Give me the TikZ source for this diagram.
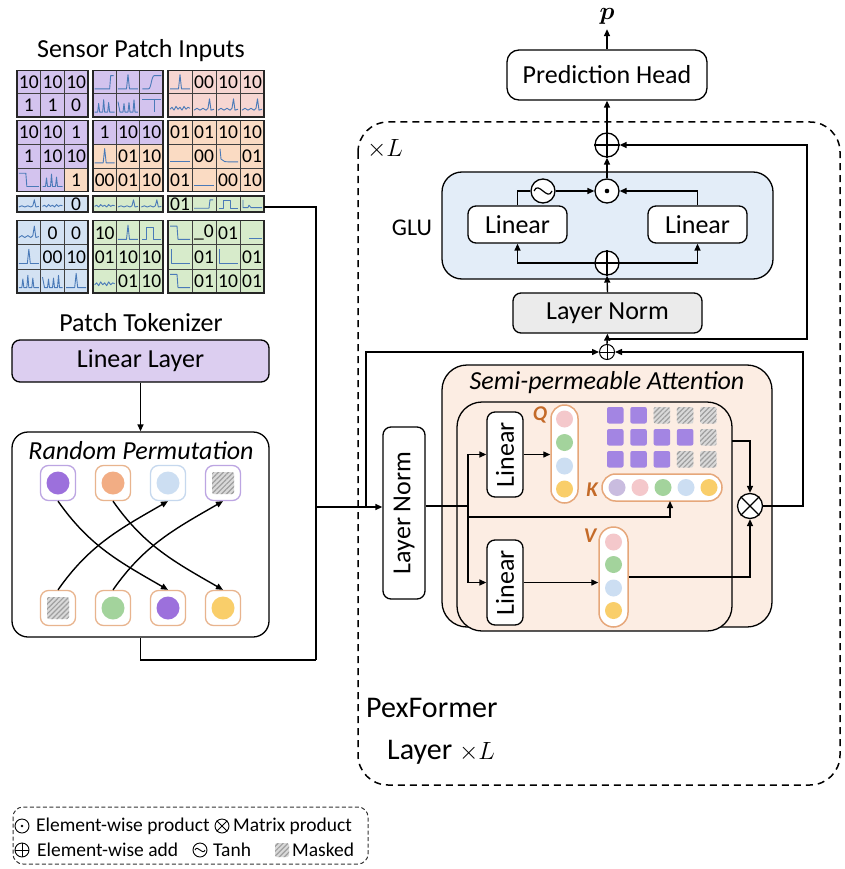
\documentclass[tikz,border=0pt]{standalone}
\usepackage{amsmath,bm}
\usepackage{fontspec}
\setmainfont{Carlito}
\usetikzlibrary{arrows.meta,patterns.meta,calc}
\definecolor{cP}{HTML}{D3C3EE}
\definecolor{cK}{HTML}{F6D6D2}
\definecolor{cO}{HTML}{FADBC3}
\definecolor{cB}{HTML}{D3E2F3}
\definecolor{cG}{HTML}{D7EBCB}
\definecolor{wavec}{HTML}{4A7AB8}
\definecolor{llf}{HTML}{DCCEF0}
\definecolor{glub}{HTML}{E3EDF8}
\definecolor{lng}{HTML}{EBEBEB}
\definecolor{attf}{HTML}{FCEDE3}
\definecolor{tokP}{HTML}{9C70DC}
\definecolor{tokO}{HTML}{F2AD84}
\definecolor{tokB}{HTML}{CCDEF2}
\definecolor{tokG}{HTML}{A3D39C}
\definecolor{tokY}{HTML}{F9CE6A}
\definecolor{tokPk}{HTML}{F4C8CB}
\definecolor{tokL}{HTML}{C9BCDF}
\definecolor{bdO}{HTML}{E8B48E}
\definecolor{bdP}{HTML}{BCA5E2}
\definecolor{bdB}{HTML}{C6D8EE}
\definecolor{barO}{HTML}{E6A77A}
\definecolor{qlab}{HTML}{C46A28}
\definecolor{matP}{HTML}{A385E3}
\newcounter{cc}
\newcommand\ct[3]{\path[cellb,fill=#2] (#1,\CY) rectangle ++(\CW,\CH);\stepcounter{cc}\node[celltxt] (cn\arabic{cc}) at (#1+\CW/2,\CY+\CH/2) {#3};}
\newcommand\cw[3]{\path[cellb,fill=#2] (#1,\CY) rectangle ++(\CW,\CH);\pic[yscale=\CS] at (#1+\CW/2,\CY+\CH/2) {#3};}
\newcommand\msk[3]{\path[fill=gray!30,rounded corners=2] (#1,#2) rectangle ++(#3,#3);\path[pattern={Lines[angle=45,distance=3.5pt,line width=1.2pt]},pattern color=gray!75,rounded corners=2] (#1,#2) rectangle ++(#3,#3);}
\newcommand\psq[2]{\path[fill=matP,rounded corners=2] (#1,#2) rectangle ++(16.5,16.5);}
\tikzset{
  wave/.style={draw=wavec,line width=0.9,line join=round},
  wspike/.pic={\draw[wave] (-10,7) -- (-1.5,7) -- (0,-8) -- (1.5,7) -- (10,7);},
  wstepup/.pic={\draw[wave] (-10,7) -- (5,7) -- (6,-7) -- (9,-7);},
  wsig/.pic={\draw[wave] (-9,7) -- (-3,7) .. controls (0,7) and (0,-7) .. (3,-7) -- (10,-7);},
  wstepdn/.pic={\draw[wave] (-10,-7) -- (-3,-7) -- (-2,7) -- (10,7);},
  wmulti/.pic={\draw[wave] (-10,7) -- (-7,7) -- (-6,-2) -- (-5,7) -- (-2,7) -- (-1,-6) -- (0,7) -- (3,7) -- (4,-3) -- (5,7) -- (10,7);},
  wcomb/.pic={\draw[wave] (-10,-4) -- (-8,7) -- (-5,7) -- (-4,-2) -- (-3,7) -- (0,7) -- (1,-3) -- (2,7) -- (5,7) -- (6,-6) -- (7,7) -- (10,7);},
  wtee/.pic={\draw[wave] (-9,-6) -- (10,-6) (3,-6) -- (3,7);},
  wnoise/.pic={\draw[wave] (-10,4) -- (-8,2) -- (-6,5) -- (-4,1) -- (-2,4) -- (0,2) -- (2,5) -- (4,1) -- (6,4) -- (8,2) -- (10,3);},
  wnspike/.pic={\draw[wave] (-10,5) -- (-7,3) -- (-4,5) -- (-1,3) -- (2,5) -- (4,3) -- (5.5,-7) -- (7,5) -- (10,4);},
  wflat/.pic={\draw[wave] (-10,6) -- (10,6);},
  wflatlow/.pic={\draw[wave] (-3,6) -- (10,6);},
  wdecay/.pic={\draw[wave] (-8,-8) -- (-7,3) .. controls (-5,6) .. (10,6);},
  wpulse/.pic={\draw[wave] (-9,7) -- (-5,7) -- (-5,-6) -- (2,-6) -- (2,7) -- (10,7);},
  well/.pic={\draw[wave] (-9,-8) -- (-9,7) -- (10,7);},
  wbump/.pic={\draw[wave] (-9,-7) -- (-9,6) -- (-4,6) -- (-3,2) -- (-1,6) -- (10,6);},
}
\begin{document}
\begin{tikzpicture}[x=1pt,y=-1pt,
  lab/.style={font=\fontsize{26}{30}\selectfont,inner sep=1},
  celltxt/.style={font=\fontsize{19.5}{21}\selectfont,inner sep=0},
  cellb/.style={draw=black!75,line width=0.8},
  blk/.style={draw=black!85,line width=1.3},
  box/.style={draw,line width=1.3,rounded corners=8,fill=white,inner sep=0,font=\fontsize{26}{30}\selectfont},
  tok/.style={draw,line width=1.3,rounded corners=8,fill=white,minimum size=35,inner sep=0},
  pill/.style={draw=barO,line width=1.5,fill=white,inner sep=0},
  opc/.style={circle,draw,line width=1.3,minimum size=24,inner sep=0,fill=white},
  opcs/.style={circle,draw,line width=0.9,minimum size=14,inner sep=0,fill=white},
  conn/.style={draw,line width=1.4},
  arr/.style={conn,-{Triangle[length=7pt,width=6pt]}},
  leg/.style={font=\fontsize{19.5}{21}\selectfont,inner sep=0,anchor=west},
  qkv/.style={font=\fontsize{21}{24}\selectfont\bfseries\itshape,text=qlab,inner sep=0}]
\useasboundingbox (0,0) rectangle (844,869);

% ---------------- Sensor patch inputs ----------------
\node[lab] (spi) at (141,51) {Sensor Patch Inputs};
\def\CY{70.7}\def\CH{23.15}\def\CS{0.95}
\def\CW{23.67}\ct{17}{cP}{10}\ct{40.67}{cP}{10}\ct{64.33}{cP}{10}
\def\CW{23.33}\cw{93}{cP}{wstepup}\cw{116.33}{cP}{wspike}\cw{139.67}{cP}{wsig}
\def\CW{24}\cw{168}{cK}{wspike}\ct{192}{cK}{00}\ct{216}{cK}{10}\ct{240}{cK}{10}
\def\CY{93.85}
\def\CW{23.67}\ct{17}{cP}{1}\ct{40.67}{cP}{1}\ct{64.33}{cP}{0}
\def\CW{23.33}\cw{93}{cP}{wmulti}\cw{116.33}{cP}{wcomb}\cw{139.67}{cP}{wtee}
\def\CW{24}\cw{168}{cK}{wnoise}\cw{192}{cK}{wnspike}\cw{216}{cK}{wnspike}\cw{240}{cK}{wnspike}
\def\CY{120.7}\def\CH{23.67}
\def\CW{23.67}\ct{17}{cP}{10}\ct{40.67}{cP}{10}\ct{64.33}{cP}{1}
\def\CW{23.33}\ct{93}{cP}{1}\ct{116.33}{cP}{10}\ct{139.67}{cP}{10}
\def\CW{24}\ct{168}{cO}{01}\ct{192}{cO}{01}\ct{216}{cO}{10}\ct{240}{cO}{10}
\def\CY{144.37}
\def\CW{23.67}\ct{17}{cP}{1}\ct{40.67}{cP}{10}\ct{64.33}{cP}{10}
\def\CW{23.33}\cw{93}{cO}{wspike}\ct{116.33}{cO}{01}\ct{139.67}{cO}{10}
\def\CW{24}\cw{168}{cO}{wflat}\ct{192}{cO}{00}\cw{216}{cO}{wdecay}\ct{240}{cO}{01}
\def\CY{168.03}
\def\CW{23.67}\cw{17}{cP}{wstepdn}\cw{40.67}{cP}{wmulti}\ct{64.33}{cO}{1}
\def\CW{23.33}\ct{93}{cO}{00}\ct{116.33}{cO}{01}\ct{139.67}{cO}{10}
\def\CW{24}\ct{168}{cO}{01}\cw{192}{cO}{wflat}\ct{216}{cO}{00}\ct{240}{cO}{10}
\def\CY{196}\def\CH{16}\def\CS{0.6}
\def\CW{23.67}\cw{17}{cB}{wnspike}\cw{40.67}{cB}{wnoise}\ct{64.33}{cB}{0}
\def\CW{23.33}\cw{93}{cG}{wnoise}\cw{116.33}{cG}{wnspike}\cw{139.67}{cG}{wnspike}
\def\CW{24}\ct{168}{cG}{01}\cw{192}{cG}{wstepup}\cw{216}{cG}{wpulse}\cw{240}{cG}{wbump}
\def\CY{220.7}\def\CH{24.1}\def\CS{0.95}
\def\CW{23.67}\cw{17}{cB}{wnspike}\ct{40.67}{cB}{0}\ct{64.33}{cB}{0}
\def\CW{23.33}\ct{93}{cG}{10}\cw{116.33}{cG}{wspike}\cw{139.67}{cG}{wpulse}
\def\CW{24}\cw{168}{cG}{wstepdn}\ct{192}{cG}{\_0}\ct{216}{cG}{01}\cw{240}{cG}{wflatlow}
\def\CY{244.8}
\def\CW{23.67}\cw{17}{cB}{wspike}\ct{40.67}{cB}{00}\ct{64.33}{cB}{10}
\def\CW{23.33}\ct{93}{cG}{01}\ct{116.33}{cG}{10}\ct{139.67}{cG}{10}
\def\CW{24}\cw{168}{cG}{well}\ct{192}{cG}{01}\cw{216}{cG}{well}\ct{240}{cG}{01}
\def\CY{268.9}
\def\CW{23.67}\cw{17}{cB}{wmulti}\cw{40.67}{cB}{wcomb}\cw{64.33}{cB}{wspike}
\def\CW{23.33}\cw{93}{cG}{wnoise}\ct{116.33}{cG}{01}\ct{139.67}{cG}{10}
\def\CW{24}\cw{168}{cG}{wstepdn}\ct{192}{cG}{01}\ct{216}{cG}{10}\ct{240}{cG}{01}
\foreach \bx/\bw in {17/88,93/163,168/264}
  \foreach \by/\bh in {70.7/117,120.7/191.7,196/212,220.7/293}
    \draw[blk] (\bx,\by) rectangle (\bw,\bh);

% ---------------- Tokenizer & permutation ----------------
\node[lab] (ptk) at (141,323) {Patch Tokenizer};
\node[box,fill=llf,minimum width=257,minimum height=42] (ll) at (140.5,361) {Linear Layer};
\node[box,minimum width=257,minimum height=205,rounded corners=16] (rp) at (140.5,534.5) {};
\node[lab,font=\fontsize{26}{30}\selectfont\itshape] (rpt) at (141,451) {Random Permutation};
\draw[arr] (ll.south) -- (rp.north);

\node[tok,draw=bdP] (tk1) at (58,483) {};
\node[tok,draw=bdO] (tk2) at (113,483) {};
\node[tok,draw=bdB] (tk3) at (168,483) {};
\node[tok,draw=bdP] (tk4) at (223,483) {};
\node[tok,draw=bdO] (bk1) at (58,608) {};
\node[tok,draw=bdO] (bk2) at (113,608) {};
\node[tok,draw=bdO] (bk3) at (168,608) {};
\node[tok,draw=bdO] (bk4) at (223,608) {};
\fill[tokP] (tk1) circle (11.5);
\fill[tokO] (tk2) circle (11.5);
\fill[tokB] (tk3) circle (11.5);
\msk{212}{472}{22}
\msk{47}{597}{22}
\fill[tokG] (bk2) circle (11.5);
\fill[tokP] (bk3) circle (11.5);
\fill[tokY] (bk4) circle (11.5);
\draw[arr] (tk1.south) to[out=-55,in=150] (bk3.north);
\draw[arr] (tk2.south) to[out=-55,in=150] (bk4.north);
\draw[arr] (bk1.north) to[out=55,in=-150] (tk3.south);
\draw[arr] (bk2.north) to[out=55,in=-150] (tk4.south);

% ---------------- PexFormer frame ----------------
\draw[line width=1.5,dash pattern=on 7pt off 5pt,rounded corners=30] (358,122) rectangle (840,785);
\node[lab] (xl) at (385,149) {$\times L$};
\node[anchor=west,font=\fontsize{30}{34}\selectfont,inner sep=0] (pf) at (366,708) {PexFormer};
\node[anchor=west,font=\fontsize{30}{34}\selectfont,inner sep=0] (pfl) at (387,752) {Layer $\times L$};

% Prediction head
\node[box,minimum width=200,minimum height=50,rounded corners=12] (ph) at (607,75) {Prediction Head};
\node[inner sep=0,font=\fontsize{26}{30}\selectfont] (pl) at (607,16) {$\bm{p}$};

% GLU block
\node[opc] (tp) at (607,145) {};
\draw[line width=1.3] (tp.north) -- (tp.south) (tp.west) -- (tp.east);
\node[box,fill=glub,minimum width=331,minimum height=107,rounded corners=20] (glu) at (607.5,225.5) {};
\node[lab,font=\fontsize{24}{28}\selectfont] (glul) at (412,228) {GLU};
\node[box,minimum width=99,minimum height=37] (l1) at (517.5,224.5) {Linear};
\node[box,minimum width=99,minimum height=37] (l2) at (697.5,224.5) {Linear};
\node[opc] (gp) at (607,263) {};
\draw[line width=1.3] (gp.north) -- (gp.south) (gp.west) -- (gp.east);
\node[opc] (th) at (543,191) {};
\draw[line width=1.2] ($(th)+(-9,0)$) .. controls ($(th)+(-4.5,-11)$) and ($(th)+(4.5,11)$) .. ($(th)+(9,0)$);
\node[opc] (dt) at (607,191) {};
\fill (dt) circle (2.3);
\node[box,fill=lng,minimum width=189,minimum height=40] (ln1) at (607.5,313) {Layer Norm};
\node[opc,minimum size=15,line width=1] (sp) at (607,352) {};
\draw[line width=1] (sp.north) -- (sp.south) (sp.west) -- (sp.east);

% Attention block
\node[box,fill=attf,minimum width=330,minimum height=262,rounded corners=25] (att) at (607,496) {};
\node[lab,font=\fontsize{26}{30}\selectfont\itshape] (attt) at (607,383) {Semi-permeable Attention};
\node[box,fill=attf,minimum width=275,minimum height=229,rounded corners=25] (inb) at (594.5,516.5) {};
\node[box,minimum width=42,minimum height=172] (ln2) at (404,513) {};
\node[lab,rotate=90] (ln2t) at (ln2.center) {Layer Norm};
\node[box,minimum width=36,minimum height=85] (lq) at (505,454.5) {};
\node[lab,rotate=90] (lqt) at (lq.center) {Linear};
\node[box,minimum width=36,minimum height=85] (lv) at (505,582.5) {};
\node[lab,rotate=90] (lvt) at (lv.center) {Linear};
\node[pill,minimum width=27,minimum height=98,rounded corners=13.5] (qb) at (564.5,454) {};
\node[pill,minimum width=120,minimum height=27,rounded corners=13.5] (kb) at (662,487.5) {};
\node[pill,minimum width=29,minimum height=100,rounded corners=14.5] (vb) at (613.5,577) {};
\fill[tokPk] (564.5,419) circle (8.5);
\fill[tokG] (564.5,442.5) circle (8.5);
\fill[tokB] (564.5,466) circle (8.5);
\fill[tokY] (564.5,489) circle (8.5);
\fill[tokL] (617,487.5) circle (8.5);
\fill[tokPk] (640,487.5) circle (8.5);
\fill[tokG] (663,487.5) circle (8.5);
\fill[tokB] (686,487.5) circle (8.5);
\fill[tokY] (709,487.5) circle (8.5);
\fill[tokPk] (613.5,542) circle (8.5);
\fill[tokG] (613.5,564.5) circle (8.5);
\fill[tokB] (613.5,588) circle (8.5);
\fill[tokY] (613.5,610.5) circle (8.5);
\node[qkv] (ql) at (540,415) {Q};
\node[qkv] (kl) at (592,490) {K};
\node[qkv] (vl) at (590,536) {V};
\psq{607}{407}\psq{630.3}{407}\msk{653.6}{407}{16.5}\msk{676.9}{407}{16.5}\msk{700.2}{407}{16.5}
\psq{607}{429}\psq{630.3}{429}\psq{653.6}{429}\psq{676.9}{429}\msk{700.2}{429}{16.5}
\psq{607}{451}\psq{630.3}{451}\psq{653.6}{451}\msk{676.9}{451}{16.5}\msk{700.2}{451}{16.5}
\node[opc,minimum size=25] (mx) at (750,506) {};
\draw[line width=1.3] (mx.north west) -- (mx.south east) (mx.north east) -- (mx.south west);

% ---------------- Connectors ----------------
\coordinate (go) at (264,207);
\coordinate (jn) at (316,507);
\coordinate (jb) at (316,660);
\coordinate (rs) at (366,507);
\coordinate (a0) at (468,506);
\coordinate (a1) at (468,517);
\coordinate (kin) at (670,501);
\coordinate (mo) at (732,441);
\coordinate (rd) at (803,352);
\coordinate (rb) at (607,339);
\coordinate (rc) at (807,145);
\draw[conn] (go) -| (jb);
\draw[conn] (rp.south) |- (jb);
\draw[arr] (jn) -- (jn -| ln2.west);
\draw[arr] (rs) |- (sp.west);
\draw[conn] (ln2.east |- a0) -- (a0);
\draw[arr] (a0) |- (lq.west);
\draw[arr] (a0) |- (lv.west);
\draw[arr] (a1) -| (kin);
\draw[arr] (lq.east) -- (lq.east -| qb.west);
\draw[arr] (lv.east) -- (lv.east -| vb.west);
\draw[arr] (vb.east) -| (mx.south);
\draw[arr] (mo) -| (mx.north);
\draw[arr] (mx.east) -| (rd) -- (sp.east);
\draw[arr] (sp.north) -- (ln1.south);
\draw[arr] (rb) -| (rc) -- (tp.east);
\draw[arr] (ln1.north) -- (gp.south);
\draw[arr] (gp.west) -| (l1.south);
\draw[arr] (gp.east) -| (l2.south);
\draw[conn] (l1.north) |- (th.west);
\draw[arr] (th.east) -- (dt.west);
\draw[arr] (l2.north) |- (dt.east);
\draw[arr] (dt.north) -- (tp.south);
\draw[arr] (tp.north) -- (ph.south);
\draw[arr,shorten >=5pt] (ph.north) -- (pl.south);

% ---------------- Legend ----------------
\draw[line width=1,dash pattern=on 4pt off 2.5pt,rounded corners=10,draw=black!80] (13,807) rectangle (368,864);
\node[opcs] (lo1) at (22,826) {};
\fill (lo1) circle (1.3);
\node[leg] (lt1) at (36,826) {Element-wise product};
\node[opcs] (lo2) at (222,826) {};
\draw[line width=0.9] (lo2.north west) -- (lo2.south east) (lo2.north east) -- (lo2.south west);
\node[leg] (lt2) at (233,826) {Matrix product};
\node[opcs] (lo3) at (22,850) {};
\draw[line width=0.9] (lo3.north) -- (lo3.south) (lo3.west) -- (lo3.east);
\node[leg] (lt3) at (37,850) {Element-wise add};
\node[opcs] (lo4) at (200,850) {};
\draw[line width=0.9] ($(lo4)+(-5,0)$) .. controls ($(lo4)+(-2.5,-6)$) and ($(lo4)+(2.5,6)$) .. ($(lo4)+(5,0)$);
\node[leg] (lt4) at (213,850) {Tanh};
\msk{275}{843}{14}
\node[leg] (lt5) at (292,850) {Masked};
\end{tikzpicture}
\end{document}
